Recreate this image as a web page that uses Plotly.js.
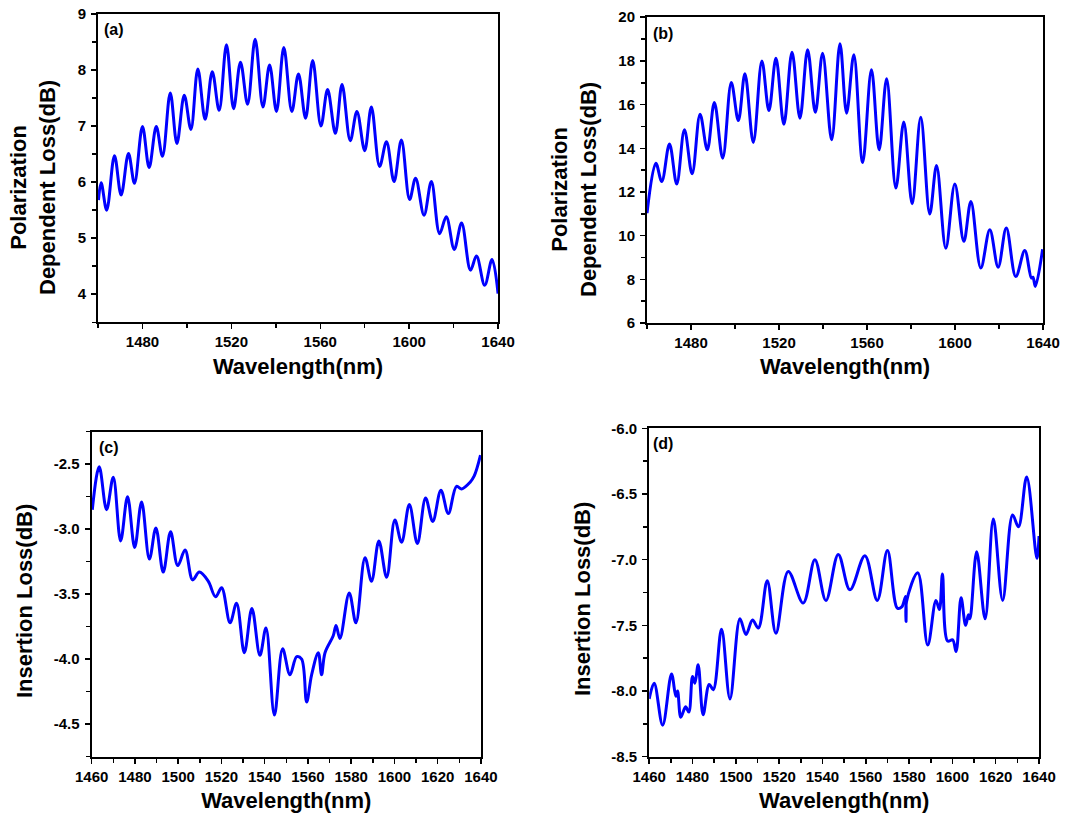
<!DOCTYPE html>
<html>
<head>
<meta charset="utf-8">
<script src="https://cdn.plot.ly/plotly-3.0.1.min.js"></script>
<style>html,body{margin:0;padding:0;background:#fff;}#chart{width:1082px;height:820px;}</style>
</head>
<body>
<div id="chart"></div>
<script>
// Panel (a): Polarization dependent loss (dB)
var aX = [1460.2,1461.4,1463.9,1467.4,1470.4,1473.7,1476.4,1480.0,1483.0,1486.2,1489.0,1492.5,1495.5,1498.8,1501.8,1504.9,1508.2,1511.4,1514.5,1517.8,1521.0,1524.1,1527.3,1530.7,1534.2,1537.2,1540.3,1543.6,1547.2,1550.2,1553.4,1556.6,1560.3,1563.3,1566.8,1569.8,1573.5,1576.5,1580.0,1583.0,1586.7,1589.8,1593.2,1596.5,1600.2,1602.9,1606.7,1610.0,1613.7,1616.7,1620.3,1623.6,1627.6,1630.3,1634.0,1637.3,1640.0];
var aY = [5.68,5.99,5.50,6.47,5.77,6.51,5.98,6.99,6.26,6.99,6.46,7.59,6.69,7.55,6.94,8.02,7.12,7.97,7.28,8.45,7.31,8.14,7.39,8.55,7.34,8.09,7.26,8.40,7.26,7.93,7.14,8.17,7.00,7.65,6.87,7.74,6.74,7.26,6.56,7.34,6.28,6.72,6.01,6.75,5.69,6.07,5.41,6.01,5.08,5.38,4.80,5.27,4.43,4.68,4.16,4.62,4.01];

// Panel (b): Polarization dependent loss (dB)
var bX = [1460.0,1464.0,1466.7,1470.2,1473.5,1477.0,1480.5,1484.1,1487.4,1490.6,1494.4,1498.3,1501.5,1504.5,1508.3,1512.2,1515.4,1518.6,1522.2,1525.9,1529.5,1533.0,1536.5,1539.8,1543.9,1547.7,1550.7,1554.0,1558.0,1562.0,1565.5,1568.9,1573.1,1576.7,1580.5,1584.4,1588.5,1591.6,1595.8,1599.9,1604.0,1607.2,1611.7,1615.8,1619.6,1623.3,1627.6,1631.7,1634.7,1635.4,1636.5,1639.8];
var bY = [11.03,13.32,12.48,14.20,12.37,14.85,12.83,15.56,13.93,16.10,13.55,17.01,15.27,17.41,14.27,18.00,15.73,18.12,15.10,18.40,15.38,18.51,15.65,18.35,14.39,18.78,15.61,18.28,13.35,17.59,13.93,17.18,12.18,15.20,11.46,15.42,10.99,13.21,9.43,12.37,9.74,11.57,8.52,10.27,8.56,10.35,8.13,9.32,8.06,8.10,7.68,9.38];

// Panel (c): Insertion loss (dB)
var cX = [1460.3,1463.5,1466.9,1470.0,1473.4,1476.6,1479.9,1483.1,1486.7,1489.7,1493.1,1496.5,1499.8,1503.2,1506.7,1509.8,1513.9,1517.3,1520.1,1524.0,1527.0,1530.6,1534.1,1537.8,1540.6,1544.5,1548.3,1551.7,1554.8,1557.1,1559.4,1561.7,1564.8,1566.3,1567.9,1571.7,1573.0,1574.8,1579.1,1582.2,1586.4,1589.4,1592.8,1596.4,1600.2,1603.3,1606.9,1610.6,1614.4,1617.7,1621.5,1624.9,1628.7,1631.1,1634.9,1636.9,1639.8];
var cY = [-2.85,-2.52,-2.85,-2.60,-3.09,-2.75,-3.14,-2.79,-3.23,-2.99,-3.33,-3.02,-3.28,-3.16,-3.39,-3.33,-3.40,-3.52,-3.45,-3.72,-3.57,-3.95,-3.61,-3.97,-3.76,-4.43,-3.92,-4.12,-3.98,-4.00,-4.33,-4.12,-3.95,-4.12,-3.95,-3.82,-3.74,-3.84,-3.49,-3.72,-3.22,-3.40,-3.09,-3.37,-2.93,-3.10,-2.81,-3.11,-2.76,-2.94,-2.70,-2.88,-2.67,-2.69,-2.64,-2.59,-2.43];

// Panel (d): Insertion loss (dB)
var dX = [1460.0,1462.3,1466.2,1470.3,1472.3,1473.1,1474.6,1476.8,1478.3,1480.0,1481.1,1482.6,1484.9,1487.7,1489.6,1493.4,1497.3,1501.9,1504.7,1507.7,1510.4,1514.5,1518.5,1524.2,1531.1,1536.5,1541.6,1547.3,1552.7,1559.6,1565.3,1570.0,1574.6,1576.6,1578.4,1578.6,1578.8,1584.0,1588.6,1592.4,1594.0,1595.4,1597.8,1600.1,1601.7,1604.0,1606.1,1607.4,1608.1,1611.2,1615.1,1618.9,1623.2,1627.8,1630.5,1634.3,1639.0,1640.0];
var dY = [-8.06,-7.94,-8.26,-7.87,-8.04,-8.00,-8.20,-8.12,-8.16,-7.89,-7.94,-7.80,-8.18,-7.95,-7.99,-7.53,-8.06,-7.45,-7.57,-7.46,-7.52,-7.16,-7.56,-7.09,-7.33,-7.00,-7.31,-6.96,-7.23,-6.97,-7.31,-6.93,-7.37,-7.36,-7.28,-7.47,-7.32,-7.10,-7.65,-7.31,-7.38,-7.11,-7.62,-7.61,-7.70,-7.29,-7.50,-7.42,-7.45,-6.94,-7.45,-6.69,-7.31,-6.66,-6.75,-6.37,-6.99,-6.82];

// Tick labels
var abXTicks = [1480,1520,1560,1600,1640];
var cdXTicks = [1460,1480,1500,1520,1540,1560,1580,1600,1620,1640];
var aYTicks = [4,5,6,7,8,9];
var bYTicks = [6,8,10,12,14,16,18,20];
var cYTicks = [-2.5,-3.0,-3.5,-4.0,-4.5];
var cYLabels = ["-2.5","-3.0","-3.5","-4.0","-4.5"];
var dYTicks = [-6.0,-6.5,-7.0,-7.5,-8.0,-8.5];
var dYLabels = ["-6.0","-6.5","-7.0","-7.5","-8.0","-8.5"];

var FONT = "Liberation Sans, Arial, sans-serif";
var tickFont = {family: FONT, size: 15, color: "#000", weight: "bold"};
var titleFont = {family: FONT, size: 22, color: "#000", weight: "bold"};

function trace(x, y, xa, ya) {
  return {x: x, y: y, xaxis: xa, yaxis: ya, type: "scatter", mode: "lines",
    line: {color: "#0000FF", width: 3, shape: "spline", smoothing: 1},
    hoverinfo: "skip", showlegend: false};
}

function xaxis(domain, anchor, range, vals, minorD) {
  return {domain: domain, anchor: anchor, range: range, showgrid: false, zeroline: false,
    showline: true, linecolor: "#000", linewidth: 2, mirror: true,
    ticks: "outside", ticklen: 5, tickwidth: 1.5, tickcolor: "#000",
    tickmode: "array", tickvals: vals, tickfont: tickFont,
    minor: {dtick: minorD, tick0: 1460, ticks: "outside", ticklen: 4, tickwidth: 1.5, tickcolor: "#000", showgrid: false},
    title: {text: "Wavelength(nm)", font: titleFont, standoff: 9}};
}
function yaxis(domain, anchor, range, vals, texts, minorD, tick0) {
  var o = {domain: domain, anchor: anchor, range: range, showgrid: false, zeroline: false,
    showline: true, linecolor: "#000", linewidth: 2, mirror: true,
    ticks: "outside", ticklen: 5, tickwidth: 1.5, tickcolor: "#000",
    tickmode: "array", tickvals: vals, tickfont: tickFont, ticklabelstandoff: 2,
    minor: {dtick: minorD, tick0: tick0, ticks: "outside", ticklen: 4, tickwidth: 1.5, tickcolor: "#000", showgrid: false}};
  if (texts) o.ticktext = texts;
  return o;
}

var data = [
  trace(aX, aY, "x", "y"),
  trace(bX, bY, "x2", "y2"),
  trace(cX, cY, "x3", "y3"),
  trace(dX, dY, "x4", "y4")
];

var layout = {
  width: 1082, height: 820,
  margin: {l: 0, r: 0, t: 0, b: 0},
  paper_bgcolor: "#fff", plot_bgcolor: "#fff",
  font: {family: FONT, color: "#000"},
  xaxis: xaxis([0.0906, 0.4603], "y", [1460, 1640], abXTicks, 20),
  yaxis: yaxis([0.607, 0.983], "x", [3.5, 9], aYTicks, null, 0.5, 3.5),
  xaxis2: xaxis([0.598, 0.964], "y2", [1460, 1640], abXTicks, 20),
  yaxis2: yaxis([0.606, 0.979], "x2", [6, 20], bYTicks, null, 1, 6),
  xaxis3: xaxis([0.0847, 0.4445], "y3", [1460, 1640], cdXTicks, 10),
  yaxis3: yaxis([0.0772, 0.4735], "x3", [-4.75, -2.25], cYTicks, cYLabels, 0.25, -4.75),
  xaxis4: xaxis([0.600, 0.9603], "y4", [1460, 1640], cdXTicks, 10),
  yaxis4: yaxis([0.0772, 0.4777], "x4", [-8.5, -6.0], dYTicks, dYLabels, 0.25, -8.5),
  annotations: [
    {text: "(a)", xref: "paper", yref: "paper", x: 102/1082, y: 1 - 29/820, xanchor: "left", yanchor: "middle", showarrow: false, font: {family: FONT, size: 16, color: "#000", weight: "bold"}},
    {text: "(b)", xref: "paper", yref: "paper", x: 651/1082, y: 1 - 33/820, xanchor: "left", yanchor: "middle", showarrow: false, font: {family: FONT, size: 16, color: "#000", weight: "bold"}},
    {text: "(c)", xref: "paper", yref: "paper", x: 97/1082, y: 1 - 447/820, xanchor: "left", yanchor: "middle", showarrow: false, font: {family: FONT, size: 16, color: "#000", weight: "bold"}},
    {text: "(d)", xref: "paper", yref: "paper", x: 651/1082, y: 1 - 443/820, xanchor: "left", yanchor: "middle", showarrow: false, font: {family: FONT, size: 16, color: "#000", weight: "bold"}},
    {text: "Polarization<br>Dependent Loss(dB)", xref: "paper", yref: "paper", x: 33/1082, y: 1 - 188/820, xanchor: "center", yanchor: "middle", textangle: -90, showarrow: false, font: titleFont},
    {text: "Polarization<br>Dependent Loss(dB)", xref: "paper", yref: "paper", x: 574/1082, y: 1 - 190/820, xanchor: "center", yanchor: "middle", textangle: -90, showarrow: false, font: titleFont},
    {text: "Insertion Loss(dB)", xref: "paper", yref: "paper", x: 24/1082, y: 1 - 601/820, xanchor: "center", yanchor: "middle", textangle: -90, showarrow: false, font: titleFont},
    {text: "Insertion Loss(dB)", xref: "paper", yref: "paper", x: 582/1082, y: 1 - 599/820, xanchor: "center", yanchor: "middle", textangle: -90, showarrow: false, font: titleFont}
  ]
};

Plotly.newPlot("chart", data, layout, {staticPlot: true, displayModeBar: false});
</script>
</body>
</html>
